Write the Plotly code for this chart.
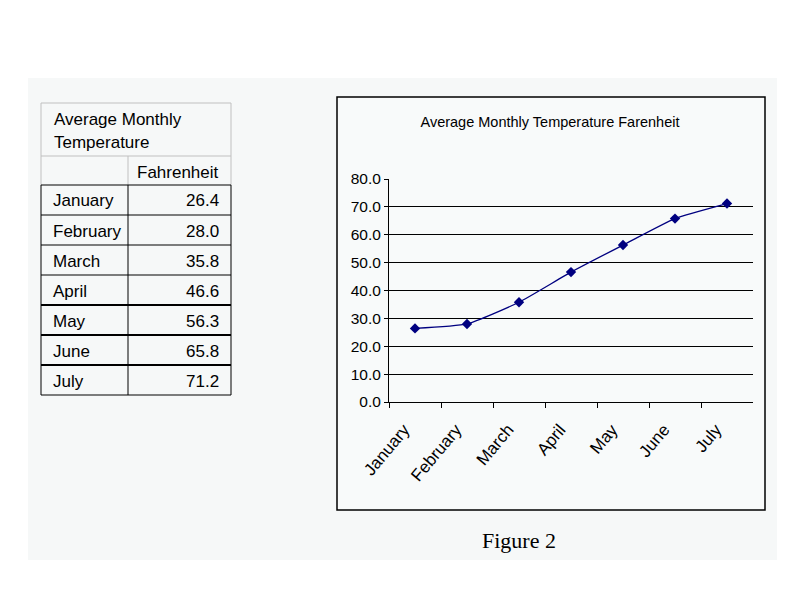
import plotly.graph_objects as go

# ---- data ----
months = ["January", "February", "March", "April", "May", "June", "July"]
fahrenheit = [26.4, 28.0, 35.8, 46.6, 56.3, 65.8, 71.2]
table_title_lines = ["Average Monthly", "Temperature"]
column_header = "Fahrenheit"
chart_title = "Average Monthly Temperature Farenheit"
caption = "Figure 2"
y_ticks = [0, 10, 20, 30, 40, 50, 60, 70, 80]

# page body has an 8px margin; figure sized to fit inside the window
OFF = 8
W, H = 794 - 2 * OFF, 595 - 2 * OFF
def fx(x):
    return (x - OFF) / W
def fy(y):
    return 1 - (y - OFF) / H

SANS = "Liberation Sans, Arial, sans-serif"
NAVY = "#000080"

fig = go.Figure()
fig.add_trace(go.Scatter(
    x=months, y=fahrenheit, mode="lines+markers",
    line=dict(color=NAVY, width=1.3, shape="spline", smoothing=0.5),
    marker=dict(symbol="diamond", size=8, color=NAVY),
    hoverinfo="x+y", showlegend=False,
))

shapes = []
annotations = []

# background panel
shapes.append(dict(type="rect", xref="paper", yref="paper", layer="below",
                   x0=fx(28), x1=fx(777), y0=fy(560), y1=fy(78),
                   fillcolor="#f6f8f8", line=dict(width=0)))
# chart box
shapes.append(dict(type="rect", xref="paper", yref="paper", layer="below",
                   x0=fx(337), x1=fx(765), y0=fy(510), y1=fy(97),
                   fillcolor="#f8fafa", line=dict(color="black", width=1.5)))

# ---- table ----
tl, tm, tr = 41, 128, 231
t_top, t_hdr, t_data = 103, 156, 185
row_h = 30
light = "#c0c0c0"
def hline(y, c, w, x0=tl, x1=tr):
    shapes.append(dict(type="line", xref="paper", yref="paper",
                       x0=fx(x0), x1=fx(x1), y0=fy(y), y1=fy(y),
                       line=dict(color=c, width=w)))
def vline(x, y0, y1, c, w):
    shapes.append(dict(type="line", xref="paper", yref="paper",
                       x0=fx(x), x1=fx(x), y0=fy(y0), y1=fy(y1),
                       line=dict(color=c, width=w)))

hline(t_top, light, 1)
hline(t_hdr, light, 1)
vline(tl, t_top, t_data, light, 1)
vline(tr, t_top, t_data, light, 1)
vline(tm, t_hdr, t_data, light, 1)
n = len(months)
t_bot = t_data + n * row_h
for i in range(n + 1):
    y = t_data + i * row_h
    w = 2 if i in (4, 5, 6) else 1.2
    hline(y, "black", w)
vline(tl, t_data, t_bot, "black", 1)
vline(tm, t_data, t_bot, "black", 1)
vline(tr, t_data, t_bot, "black", 1)

tfont = dict(family=SANS, size=17, color="black")
for k, line in enumerate(table_title_lines):
    annotations.append(dict(text=line, xref="paper", yref="paper",
                            x=fx(52), y=fy(120 + k * 23), xanchor="left",
                            yanchor="middle", showarrow=False, font=tfont))
annotations.append(dict(text=column_header, xref="paper", yref="paper",
                        x=fx(221), y=fy(172), xanchor="right", yanchor="middle",
                        showarrow=False, font=tfont))
for i, (m, v) in enumerate(zip(months, fahrenheit)):
    yc = t_data + i * row_h + row_h / 2 + 1
    annotations.append(dict(text=m, xref="paper", yref="paper", x=fx(51), y=fy(yc),
                            xanchor="left", yanchor="middle", showarrow=False, font=tfont))
    annotations.append(dict(text=f"{v:.1f}", xref="paper", yref="paper", x=fx(221), y=fy(yc),
                            xanchor="right", yanchor="middle", showarrow=False, font=tfont))

# caption
annotations.append(dict(text=caption, xref="paper", yref="paper", x=fx(519), y=fy(540),
                        xanchor="center", yanchor="middle", showarrow=False,
                        font=dict(family="Liberation Serif, Times New Roman, serif",
                                  size=22, color="black")))

fig.update_layout(
    template="none",
    width=W, height=H, autosize=False,
    margin=dict(l=0, r=0, t=0, b=0, pad=0, autoexpand=False),
    paper_bgcolor="white",
    plot_bgcolor="#c0c0c0",
    font=dict(family=SANS, size=14, color="black"),
    title=dict(text=chart_title, xref="paper", yref="paper", x=fx(550), y=fy(122),
               xanchor="center", yanchor="middle", automargin=False,
               font=dict(family=SANS, size=14.5, color="black")),
    xaxis=dict(domain=[fx(389), fx(753)], type="category", range=[-0.5, 6.5],
               automargin=False,
               tickangle=-50, ticks="outside", tickson="boundaries", ticklen=5,
               ticklabelstandoff=10, ticklabelshift=-11,
               tickcolor="black", showline=True, linecolor="black", linewidth=1,
               showgrid=False, tickfont=dict(family=SANS, size=17), fixedrange=True),
    yaxis=dict(domain=[fy(402), fy(179)], range=[0, 80], tickvals=y_ticks,
               automargin=False,
               tickformat=".1f", ticks="outside", ticklen=4, tickcolor="black",
               showline=True, linecolor="black", linewidth=1,
               showgrid=True, gridcolor="black", gridwidth=1, zeroline=False,
               tickfont=dict(family=SANS, size=15.5), fixedrange=True),
    shapes=shapes,
    annotations=annotations,
)

fig.write_html("out.html")
